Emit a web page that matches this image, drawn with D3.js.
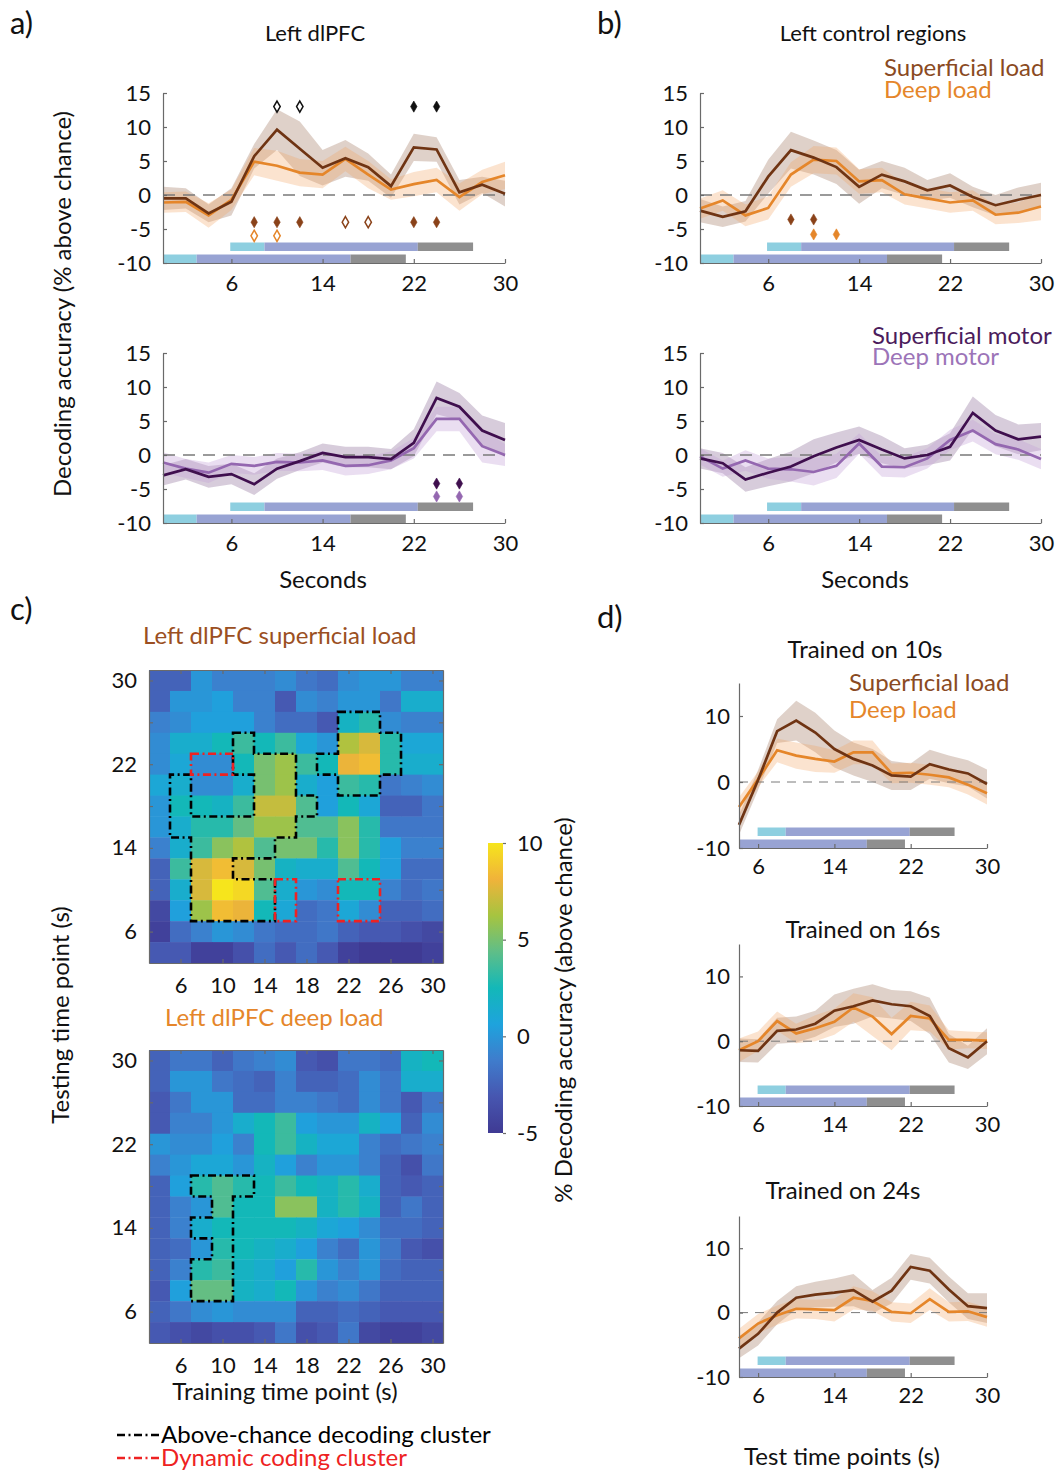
<!DOCTYPE html>
<html>
<head>
<meta charset="utf-8">
<script src="https://cdn.jsdelivr.net/npm/d3@7"></script>
<style>
  body { margin: 0; background: #fff; }
  svg text { font-family: Lato, "Open Sans", sans-serif; fill: #111; }
</style>
</head>
<body>
<svg id="fig" width="1057" height="1472"></svg>
<script>
// ---------------------------------------------------------------------------
// Data
// ---------------------------------------------------------------------------
const timesAB = [0, 2, 4, 6, 8, 10, 12, 14, 16, 18, 20, 22, 24, 26, 28, 30];
const timesD = [4, 6, 8, 10, 12, 14, 16, 18, 20, 22, 24, 26, 28, 30];

// a) Left dlPFC, load
const dlpfcSupLoad = [-0.5, -0.5, -2.7, -1, 5.7, 9.6, 6.8, 4, 5.4, 4.1, 1.3, 7, 6.7, 0.4, 1.5, 0.2];
const dlpfcSupLoadSem = [1.7, 1.5, 1.3, 2, 1.8, 3, 4, 2.6, 2.7, 2, 1.7, 2, 1.8, 1.8, 1.2, 1.9];
const dlpfcDeepLoad = [-1.1, -1, -3, -0.7, 4.9, 4.3, 3.3, 3, 5.3, 3, 0.8, 1.6, 2.2, -0.3, 1.9, 2.9];
const dlpfcDeepLoadSem = [1.5, 1.5, 1.8, 1.5, 2, 2.2, 2, 2, 1.8, 2, 1.5, 1.8, 1.8, 2, 1.8, 2];
// a) Left dlPFC, motor
const dlpfcSupMotor = [-3, -2.1, -3.2, -2.8, -4.3, -2, -0.9, 0.3, -0.3, -0.3, -0.6, 1.8, 8.4, 7.1, 3.6, 2.2];
const dlpfcSupMotorSem = [1.5, 1.5, 1.6, 1.5, 1.6, 1.5, 1.3, 1.4, 1.5, 1.5, 1.5, 2, 2.4, 2, 2.2, 2.5];
const dlpfcDeepMotor = [-1.1, -2, -2.6, -1.3, -1.6, -1, -1.1, -0.8, -1.6, -1.5, -0.8, 1, 5.3, 5.3, 1.3, 0];
const dlpfcDeepMotorSem = [1.5, 1.4, 1.5, 1.3, 1.3, 1.3, 1.3, 1.4, 1.4, 1.3, 1.3, 1.5, 1.8, 1.8, 2.4, 1.6];

// b) Left control regions, load
const ctrlSupLoad = [-2.3, -3.2, -2.4, 2.7, 6.6, 5.5, 4.1, 1.2, 3, 2, 0.7, 1.4, -0.3, -1.5, -0.7, 0];
const ctrlSupLoadSem = [1.7, 1.5, 1.5, 2.5, 2.7, 2.5, 2.5, 2.5, 2, 2, 1.5, 1.8, 1.5, 1.5, 1.8, 1.8];
const ctrlDeepLoad = [-2, -0.8, -3, -1.9, 3, 5.2, 5, 2, 2.2, 0.1, -0.5, -1.1, -0.8, -2.9, -2.6, -1.7];
const ctrlDeepLoadSem = [1.5, 1.5, 1.6, 1.7, 1.8, 2, 2, 1.8, 1.8, 1.5, 1.5, 1.5, 1.5, 1.4, 1.5, 2];
// b) Left control regions, motor
const ctrlSupMotor = [-0.5, -1.2, -3.6, -2.6, -1.7, -0.2, 1.1, 2.2, 0.8, -0.5, 0, 1.2, 6.2, 3.6, 2.3, 2.7];
const ctrlSupMotorSem = [1.5, 1.5, 1.8, 2, 2.2, 2.5, 2.2, 2, 2, 1.5, 1.5, 2, 2.4, 2.3, 2.2, 2];
const ctrlDeepMotor = [-0.2, -2, -0.8, -2, -2.1, -2.5, -1.6, 1.7, -1.7, -1.8, -0.5, 2.2, 3.6, 1.6, 0.8, -0.6];
const ctrlDeepMotorSem = [1.2, 1.2, 1.5, 1.5, 1.8, 2, 1.8, 1.5, 1.5, 1.5, 1.5, 1.5, 1.6, 1.5, 1.5, 1.5];

// significance markers (time points)
const dlpfcLoadDiffOpen = [10, 12];
const dlpfcLoadDiffFilled = [22, 24];
const dlpfcSupLoadSigFilled = [8, 10, 12, 22, 24];
const dlpfcSupLoadSigOpen = [16, 18];
const dlpfcDeepLoadSigOpen = [8, 10];
const dlpfcSupMotorSig = [24, 26];
const dlpfcDeepMotorSig = [24, 26];
const ctrlSupLoadSig = [8, 10];
const ctrlDeepLoadSig = [10, 12];

// trial phase edges (s): encoding | delay | probe
const phaseEdgesLowerAB = [0, 2.95, 16.45, 21.3];
const phaseEdgesUpperAB = [5.9, 8.9, 22.35, 27.2];
const phaseEdgesLowerD = [0, 3, 17.4, 21.4];
const phaseEdgesUpperD = [5.95, 8.9, 21.9, 26.6];

// c) temporal generalisation matrices: rows = testing time (30 -> 4), cols = training time (4 -> 30)
const heatTrainTimes = [4, 6, 8, 10, 12, 14, 16, 18, 20, 22, 24, 26, 28, 30];
const heatTestTimes = [30, 28, 26, 24, 22, 20, 18, 16, 14, 12, 10, 8, 6, 4];
const heatSupLoad = [
  [-2.5, -2.5, 0, -1, -1, -1, -0.5, -1.5, -2, -0.5, 0, 0, -1, -1],
  [-2.5, 0, 0, 0.5, -1, -1, -3, -0.5, -1, 0, 0, -1.5, 1.5, 1.5],
  [-1, -0.5, 0.5, 0.5, 0.5, -1, -2, -2, -3, 2, 3, -0.5, -1, -1],
  [-0.5, 1.5, 1.5, 2.5, 3.5, 2.5, 3.5, 1, 0, 6.5, 7.5, 3, 1, 1],
  [-0.5, 1, -0.5, -0.5, 2.5, 5, 6, 3.5, 2.5, 8, 8.5, 3, 1.5, 1.5],
  [1, 1.5, -0.5, -0.5, 1.5, 5, 6, 1.5, 0.5, 3.5, 3, -1.5, -1, -0.5],
  [0, 2.5, 2.5, 2, 3.5, 7, 7, 4, 0.5, 2.5, 1, -2.5, -2.5, -1.5],
  [0, 1.5, 3, 3, 4.5, 6, 6, 4, 4, 5.5, 3, -1.5, -1.5, -1.5],
  [-1, 1.5, 3.5, 5.5, 6.5, 4, 5, 5, 3, 5.5, 3, 0.5, -1, -1],
  [-2.5, 3.5, 7.5, 8.5, 7.5, 5, 2, 1.5, 1.5, 4, 2.5, 0.5, -2, -2],
  [-2.5, 1.5, 7.5, 10, 9.5, 4, 1.5, 0, -0.5, 2.5, 2.5, -1, -2, -1.5],
  [-4, 0.5, 6, 8.5, 8, 2.5, 1, -2, -1.5, 1, -0.5, -2.5, -2.5, -2],
  [-4.5, -2, -1, 0, -0.5, -1.5, -2, -2, -1.5, -2.5, -3, -3, -3.5, -4],
  [-3, -3, -4.5, -4.5, -3.5, -2, -3, -2, -3, -4.5, -5, -5, -5, -4.5],
];
const heatDeepLoad = [
  [-2.5, -1.5, -1.5, -2.5, -1.5, -1, -0.5, -3, -3.5, -1.5, -1.5, -2, 2, 2.5],
  [-2.5, 0, 0, -1.5, -2, -2.5, -1, -2.5, -2.5, -2, -0.5, -1.5, 1.5, 1.5],
  [-3, -1.5, 0, 0, -2, -2, -1, -1, -1.5, -2, -0.5, -1.5, -3, -1.5],
  [-3, -1, -1, 0, 1.5, 2.5, 3.5, 0.5, 0, 0, 2, 0.5, -2.5, -0.5],
  [0, -0.5, -0.5, 0.5, -1, 2.5, 3.5, 2, 1, 1, -1, -2, -1.5, -1],
  [-1, 0, 1, 1, 0, 2, 0.5, -1, 0, 0, -1, -2.5, -3.5, -1.5],
  [-2.5, 0.5, 3, 4, 3, 2.5, 3.5, 2.5, 2, 3, 1.5, -2.5, -3, -2.5],
  [-2.5, -1, 0, 4, 2.5, 2.5, 5.5, 5.5, 2, 3, 2, -2.5, -1.5, -2.5],
  [-2.5, -1, 1.5, 2.5, 2.5, 2.5, 2.5, 2, 1, 0.5, -0.5, -2, -2, -2.5],
  [-2.5, -2, 0, 3, 2.5, 2, 1.5, 0.5, -1, -2, 0, -1.5, -3, -3.5],
  [-2.5, -1, 3, 3.5, 2, 1.5, 0.5, 3, 0, -1, 0, -2, -2.5, -2.5],
  [-3, 0.5, 4.5, 4.5, 2, 1.5, 2.5, 0, -1, -0.5, -1.5, -2.5, -2.5, -2.5],
  [-2.5, -1.5, -0.5, 0, -0.5, -0.5, -0.5, -2.5, -2.5, -2, -2.5, -3, -3, -3],
  [-3, -3.5, -4, -3.5, -3.5, -3, -1.5, -3.5, -3, -1.5, -4, -4.5, -4.5, -4],
];

// clusters as [training time, testing time] cells
const supAboveChanceCells = [
  [12, 24],
  [12, 22], [14, 22], [16, 22],
  [6, 20], [14, 20], [16, 20],
  [6, 18], [14, 18], [16, 18], [18, 18],
  [6, 16], [8, 16], [10, 16], [12, 16], [14, 16], [16, 16],
  [8, 14], [10, 14], [12, 14], [14, 14],
  [8, 12], [10, 12],
  [8, 10], [10, 10], [12, 10], [14, 10],
  [8, 8], [10, 8], [12, 8], [14, 8],
  [22, 26], [24, 26],
  [22, 24], [24, 24], [26, 24],
  [20, 22], [22, 22], [24, 22], [26, 22],
  [22, 20], [24, 20],
];
const supDynamicCells = [
  [8, 22], [10, 22],
  [16, 10], [16, 8],
  [22, 10], [24, 10], [22, 8], [24, 8],
];
const deepAboveChanceCells = [
  [8, 18], [10, 18], [12, 18],
  [10, 16],
  [8, 14], [10, 14],
  [10, 12],
  [8, 10], [10, 10],
  [8, 8], [10, 8],
];

// d) cross-temporal decoding, trained on single time points
const trained10Sup = [-6.5, 0.3, 7.7, 9.3, 7.5, 5, 3.5, 2.5, 1, 0.8, 2.7, 1.9, 1.3, -0.3];
const trained10SupSem = [1.5, 1.5, 1.8, 3, 3, 2.8, 2.5, 2.5, 2.2, 2, 2.2, 2.1, 2, 2.2];
const trained10Deep = [-3.8, 0.4, 4.8, 4, 3.5, 3.1, 4.5, 4.5, 1.3, 1.4, 1.1, 0.7, -0.4, -1.7];
const trained10DeepSem = [1.5, 1.2, 1.8, 2, 2, 1.7, 1.8, 1.8, 1.5, 1.5, 1.5, 1.5, 1.5, 1.7];
const trained16Sup = [-1.4, -1.5, 1.6, 1.8, 2.7, 4.7, 5.4, 6.3, 5.7, 5.4, 3.9, -1.1, -2.5, 0];
const trained16SupSem = [1.8, 1.8, 2, 2, 2, 2.5, 2.7, 2.5, 2.2, 2.3, 2.8, 2.2, 1.8, 2];
const trained16Deep = [-1.4, 0, 3.1, 1.2, 2, 3, 5.2, 3.8, 1.1, 3.9, 3.5, 0.2, 0.2, 0.1];
const trained16DeepSem = [1.8, 1.5, 1.5, 1.5, 2, 2, 2.2, 3, 2.5, 2.2, 2, 1.5, 1.3, 1.3];
const trained24Sup = [-5.6, -3.3, 0, 2.3, 2.8, 3.1, 3.5, 1.7, 3.4, 7.1, 6.5, 3.6, 1, 0.7];
const trained24SupSem = [1.5, 1.8, 1.8, 1.8, 2, 2.2, 2.5, 1.8, 2, 2, 2, 2, 2, 2.3];
const trained24Deep = [-4, -1.7, -0.4, 0.6, 0.5, 0.4, 2.3, 1.8, 0.1, -0.1, 2.1, 0.1, 0.2, -0.7];
const trained24DeepSem = [1.5, 1.5, 1.5, 1.5, 1.5, 1.8, 1.8, 1.5, 1.5, 1.5, 1.7, 1.5, 1.5, 1.5];

// ---------------------------------------------------------------------------
// Styles
// ---------------------------------------------------------------------------
const SUP_LOAD = '#6f3413', DEEP_LOAD = '#e5862a';
const SUP_MOTOR = '#3f0f4e', DEEP_MOTOR = '#9467b0';
const PHASE_COLORS = ['#8ecfe0', '#98a3d3', '#8f8f8f'];
const AXIS_COLOR = '#6a6a6a';
const TICK_FONT = 22;
const LABEL_FONT = 24;

// parula-like colour map, as in the figure's colour bar
const heatStops = ['#3f3a93', '#4756b0', '#3f7ccc', '#1ea3dd', '#13b8b8', '#5fbe88', '#a6c440', '#f0b33a', '#f6e51c'];
const heatColor = d3.scaleLinear()
  .domain(d3.range(heatStops.length).map((i) => -5 + 15 * i / (heatStops.length - 1)))
  .range(heatStops)
  .interpolate(d3.interpolateRgb)
  .clamp(true);

const svg = d3.select('#fig');

function styleAxis(sel) {
  sel.select('.domain').attr('stroke', AXIS_COLOR).attr('stroke-width', 1.2);
  sel.selectAll('.tick line').attr('stroke', AXIS_COLOR).attr('stroke-width', 1.2);
  sel.selectAll('.tick text').attr('font-size', TICK_FONT).attr('fill', '#111')
    .style('font-family', 'Lato, "Open Sans", sans-serif');
}

function text(x, y, str, opts = {}) {
  const t = svg.append('text')
    .attr('x', x).attr('y', y)
    .attr('font-size', opts.size || LABEL_FONT)
    .attr('text-anchor', opts.anchor || 'start')
    .style('fill', opts.color || '#111')
    .text(str);
  if (opts.rotate) t.attr('transform', `rotate(${opts.rotate},${x},${y})`);
  return t;
}

// ---------------------------------------------------------------------------
// Line panels (a, b, d)
// ---------------------------------------------------------------------------
function linePanel(o) {
  const x = d3.scaleLinear().domain(o.xDomain).range([o.left, o.right]);
  const y = d3.scaleLinear().domain([-10, 15]).range([o.bottom, o.top]);
  const g = svg.append('g');

  // trial phase bars, lower one sits on the x axis
  [[o.phases[0], 0, 8.5], [o.phases[1], 12, 20.5]].forEach(([edges, lo, hi]) => {
    const segs = d3.pairs(edges)
      .map(([a, b], i) => ({ a: Math.max(a, o.xDomain[0]), b, c: PHASE_COLORS[i] }))
      .filter((s) => s.b > s.a);
    g.selectAll(null).data(segs).join('rect')
      .attr('x', (d) => x(d.a))
      .attr('width', (d) => x(d.b) - x(d.a))
      .attr('y', o.bottom - hi)
      .attr('height', hi - lo)
      .attr('fill', (d) => d.c);
  });

  const pts = (s) => o.times.map((t, i) => ({ t, v: s.values[i], e: s.sem[i] }));

  // shaded error bands
  o.series.forEach((s) => {
    g.append('path').datum(pts(s))
      .attr('d', d3.area().x((d) => x(d.t)).y0((d) => y(d.v - d.e)).y1((d) => y(d.v + d.e)))
      .attr('fill', s.band)
      .attr('fill-opacity', s.bandOpacity);
  });

  // chance level
  g.append('line')
    .attr('x1', x(o.xDomain[0])).attr('x2', x(o.xDomain[1]))
    .attr('y1', y(0)).attr('y2', y(0))
    .attr('stroke', '#7a7a7a')
    .attr('stroke-width', o.thin ? 1 : 1.3)
    .attr('stroke-dasharray', o.thin ? '9,7' : '12,8');

  // mean lines
  o.series.slice().reverse().forEach((s) => {
    g.append('path').datum(pts(s))
      .attr('d', d3.line().x((d) => x(d.t)).y((d) => y(d.v)))
      .attr('fill', 'none')
      .attr('stroke', s.color)
      .attr('stroke-width', 2.7)
      .attr('stroke-linejoin', 'miter');
  });

  // significance diamonds
  (o.markers || []).forEach((m) => {
    g.selectAll(null).data(m.times).join('path')
      .attr('d', d3.symbol(d3.symbolDiamond, 36))
      .attr('transform', (t) => `translate(${x(t)},${y(m.level)})`)
      .attr('fill', m.open ? '#fff' : m.color)
      .attr('stroke', m.color)
      .attr('stroke-width', m.open ? 1.5 : 0.6);
  });

  // axes
  g.append('g')
    .attr('transform', `translate(${o.left},0)`)
    .call(d3.axisLeft(y).tickValues(o.yTicks).tickSize(-4).tickSizeOuter(0)
      .tickPadding(o.yPad || 12).tickFormat(String))
    .call(styleAxis);
  g.append('g')
    .attr('transform', `translate(0,${o.bottom})`)
    .call(d3.axisBottom(x).tickValues([6, 14, 22, 30]).tickSize(-4).tickSizeOuter(0)
      .tickPadding(o.xPad || 12).tickFormat(String))
    .call(styleAxis);
}

const abTicks = [-10, -5, 0, 5, 10, 15];
const loadSeries = (sup, supSem, deep, deepSem) => [
  { values: sup, sem: supSem, color: SUP_LOAD, band: '#8b5a3c', bandOpacity: 0.28 },
  { values: deep, sem: deepSem, color: DEEP_LOAD, band: '#f3a260', bandOpacity: 0.3 },
];
const motorSeries = (sup, supSem, deep, deepSem) => [
  { values: sup, sem: supSem, color: SUP_MOTOR, band: '#7a5688', bandOpacity: 0.3 },
  { values: deep, sem: deepSem, color: DEEP_MOTOR, band: '#c4a0d8', bandOpacity: 0.35 },
];

// a) top
linePanel({
  left: 163, right: 505, top: 93, bottom: 263, xDomain: [0, 30], times: timesAB, yTicks: abTicks,
  phases: [phaseEdgesLowerAB, phaseEdgesUpperAB],
  series: loadSeries(dlpfcSupLoad, dlpfcSupLoadSem, dlpfcDeepLoad, dlpfcDeepLoadSem),
  markers: [
    { times: dlpfcLoadDiffOpen, level: 13, color: '#111', open: true },
    { times: dlpfcLoadDiffFilled, level: 13, color: '#111' },
    { times: dlpfcSupLoadSigFilled, level: -4, color: '#8a4219' },
    { times: dlpfcSupLoadSigOpen, level: -4, color: '#8a4219', open: true },
    { times: dlpfcDeepLoadSigOpen, level: -6, color: DEEP_LOAD, open: true },
  ],
});
// a) bottom
linePanel({
  left: 163, right: 505, top: 353, bottom: 523, xDomain: [0, 30], times: timesAB, yTicks: abTicks,
  phases: [phaseEdgesLowerAB, phaseEdgesUpperAB],
  series: motorSeries(dlpfcSupMotor, dlpfcSupMotorSem, dlpfcDeepMotor, dlpfcDeepMotorSem),
  markers: [
    { times: dlpfcSupMotorSig, level: -4.2, color: SUP_MOTOR },
    { times: dlpfcDeepMotorSig, level: -6.1, color: DEEP_MOTOR },
  ],
});
// b) top
linePanel({
  left: 700, right: 1041, top: 93, bottom: 263, xDomain: [0, 30], times: timesAB, yTicks: abTicks,
  phases: [phaseEdgesLowerAB, phaseEdgesUpperAB],
  series: loadSeries(ctrlSupLoad, ctrlSupLoadSem, ctrlDeepLoad, ctrlDeepLoadSem),
  markers: [
    { times: ctrlSupLoadSig, level: -3.6, color: '#8a4219' },
    { times: ctrlDeepLoadSig, level: -5.8, color: DEEP_LOAD },
  ],
});
// b) bottom
linePanel({
  left: 700, right: 1041, top: 353, bottom: 523, xDomain: [0, 30], times: timesAB, yTicks: abTicks,
  phases: [phaseEdgesLowerAB, phaseEdgesUpperAB],
  series: motorSeries(ctrlSupMotor, ctrlSupMotorSem, ctrlDeepMotor, ctrlDeepMotorSem),
});

// d) three panels
const dTicks = [-10, 0, 10];
[
  { top: 683, bottom: 848, sup: trained10Sup, supSem: trained10SupSem, deep: trained10Deep, deepSem: trained10DeepSem },
  { top: 944, bottom: 1106, sup: trained16Sup, supSem: trained16SupSem, deep: trained16Deep, deepSem: trained16DeepSem },
  { top: 1216, bottom: 1377, sup: trained24Sup, supSem: trained24SupSem, deep: trained24Deep, deepSem: trained24DeepSem },
].forEach((p) => {
  linePanel({
    left: 739, right: 987, top: p.top, bottom: p.bottom, xDomain: [4, 30], times: timesD, yTicks: dTicks,
    phases: [phaseEdgesLowerD, phaseEdgesUpperD], thin: true, yPad: 9, xPad: 10,
    series: loadSeries(p.sup, p.supSem, p.deep, p.deepSem),
  });
});

// ---------------------------------------------------------------------------
// Heat maps (c)
// ---------------------------------------------------------------------------
function clusterPath(cells, x, y) {
  const key = (a, b) => a + ',' + b;
  const inside = new Set(cells.map(([tr, te]) => key(tr, te)));
  const next = new Map();
  cells.forEach(([tr, te]) => {
    const L = tr - 1, R = tr + 1, B = te - 1, T = te + 1;
    if (!inside.has(key(tr, te + 2))) next.set(key(L, T), [R, T]);
    if (!inside.has(key(tr + 2, te))) next.set(key(R, T), [R, B]);
    if (!inside.has(key(tr, te - 2))) next.set(key(R, B), [L, B]);
    if (!inside.has(key(tr - 2, te))) next.set(key(L, B), [L, T]);
  });
  let d = '';
  while (next.size) {
    const startKey = next.keys().next().value;
    const start = startKey.split(',').map(Number);
    const loop = [start];
    let k = startKey;
    while (next.has(k)) {
      const p = next.get(k);
      next.delete(k);
      k = key(p[0], p[1]);
      if (k === startKey) break;
      loop.push(p);
    }
    d += 'M' + loop.map(([a, b]) => `${x(a)},${y(b)}`).join('L') + 'Z';
  }
  return d;
}

function heatPanel(o) {
  const x = d3.scaleLinear().domain([3, 31]).range([o.left, o.right]);
  const y = d3.scaleLinear().domain([3, 31]).range([o.bottom, o.top]);
  const g = svg.append('g');
  const cells = [];
  o.values.forEach((row, r) => row.forEach((v, c) => cells.push({ tr: heatTrainTimes[c], te: heatTestTimes[r], v })));

  g.selectAll(null).data(cells).join('rect')
    .attr('x', (d) => x(d.tr - 1))
    .attr('y', (d) => y(d.te + 1))
    .attr('width', (d) => x(d.tr + 1) - x(d.tr - 1) + 0.4)
    .attr('height', (d) => y(d.te - 1) - y(d.te + 1) + 0.4)
    .attr('fill', (d) => heatColor(d.v));

  o.clusters.forEach((cl) => {
    g.append('path')
      .attr('d', clusterPath(cl.cells, x, y))
      .attr('fill', 'none')
      .attr('stroke', cl.color)
      .attr('stroke-width', 2.6)
      .attr('stroke-dasharray', '8,3.5,2,3.5');
  });

  const tickVals = [6, 10, 14, 18, 22, 26, 30];
  const yLabels = new Set([6, 14, 22, 30]);
  g.append('g').attr('transform', `translate(${o.left},0)`)
    .call(d3.axisLeft(y).tickValues(tickVals).tickSize(-4).tickSizeOuter(0).tickPadding(12)
      .tickFormat((d) => (yLabels.has(d) ? String(d) : '')))
    .call(styleAxis);
  g.append('g').attr('transform', `translate(${o.right},0)`)
    .call(d3.axisRight(y).tickValues(tickVals).tickSize(-4).tickSizeOuter(0).tickFormat(''))
    .call(styleAxis);
  g.append('g').attr('transform', `translate(0,${o.bottom})`)
    .call(d3.axisBottom(x).tickValues(tickVals).tickSize(-4).tickSizeOuter(0).tickPadding(14).tickFormat(String))
    .call(styleAxis);
  g.append('g').attr('transform', `translate(0,${o.top})`)
    .call(d3.axisTop(x).tickValues(tickVals).tickSize(-4).tickSizeOuter(0).tickFormat(''))
    .call(styleAxis);
}

heatPanel({
  left: 149, right: 443, top: 670, bottom: 963, values: heatSupLoad,
  clusters: [
    { cells: supAboveChanceCells, color: '#000' },
    { cells: supDynamicCells, color: '#ee2222' },
  ],
});
heatPanel({
  left: 149, right: 443, top: 1050, bottom: 1343, values: heatDeepLoad,
  clusters: [{ cells: deepAboveChanceCells, color: '#000' }],
});

// colour bar
const cbar = { left: 488, right: 503, top: 843, bottom: 1133 };
const grad = svg.append('defs').append('linearGradient')
  .attr('id', 'cbarGrad').attr('x1', 0).attr('y1', 1).attr('x2', 0).attr('y2', 0);
grad.selectAll('stop').data(heatStops).join('stop')
  .attr('offset', (d, i) => i / (heatStops.length - 1))
  .attr('stop-color', (d) => d);
svg.append('rect')
  .attr('x', cbar.left).attr('y', cbar.top)
  .attr('width', cbar.right - cbar.left).attr('height', cbar.bottom - cbar.top)
  .attr('fill', 'url(#cbarGrad)');
const cy = d3.scaleLinear().domain([-5, 10]).range([cbar.bottom, cbar.top]);
svg.append('g').attr('transform', `translate(${cbar.right},0)`)
  .call(d3.axisRight(cy).tickValues([-5, 0, 5, 10]).tickSize(3).tickSizeOuter(0).tickPadding(11).tickFormat(String))
  .call(styleAxis)
  .call((s) => s.select('.domain').remove());

// ---------------------------------------------------------------------------
// Text
// ---------------------------------------------------------------------------
text(10, 34, 'a)', { size: 31 });
text(597, 34, 'b)', { size: 31 });
text(10, 620, 'c)', { size: 31 });
text(597, 628, 'd)', { size: 31 });

text(315, 41, 'Left dlPFC', { anchor: 'middle', size: 22 });
text(873, 41, 'Left control regions', { anchor: 'middle', size: 22 });

text(884, 76, 'Superficial load', { color: '#8a4a22' });
text(884, 98, 'Deep load', { color: DEEP_LOAD });
text(872, 344, 'Superficial motor', { color: '#4b1c5c' });
text(872, 365, 'Deep motor', { color: '#9c74b8' });

text(323, 588, 'Seconds', { anchor: 'middle' });
text(865, 588, 'Seconds', { anchor: 'middle' });
text(71, 304, 'Decoding accuracy (% above chance)', { anchor: 'middle', rotate: -90 });

text(143, 644, 'Left dlPFC superficial load', { color: '#9b4f22' });
text(165, 1026, 'Left dlPFC deep load', { color: DEEP_LOAD });
text(69, 1015, 'Testing time point (s)', { anchor: 'middle', rotate: -90 });
text(285, 1400, 'Training time point (s)', { anchor: 'middle' });
text(572, 1010, '% Decoding accuracy (above chance)', { anchor: 'middle', rotate: -90 });

// cluster legend
[['Above-chance decoding cluster', '#000', 1435], ['Dynamic coding cluster', '#ee2222', 1458]].forEach(([label, color, yy]) => {
  svg.append('line')
    .attr('x1', 117).attr('x2', 160).attr('y1', yy).attr('y2', yy)
    .attr('stroke', color).attr('stroke-width', 2.6)
    .attr('stroke-dasharray', '8,3.5,2,3.5');
  text(161, yy + 8, label, { color });
});

text(865, 658, 'Trained on 10s', { anchor: 'middle' });
text(863, 938, 'Trained on 16s', { anchor: 'middle' });
text(843, 1199, 'Trained on 24s', { anchor: 'middle' });
text(849, 691, 'Superficial load', { color: '#8a4a22' });
text(849, 718, 'Deep load', { color: DEEP_LOAD });
text(842, 1465, 'Test time points (s)', { anchor: 'middle' });
</script>
</body>
</html>
